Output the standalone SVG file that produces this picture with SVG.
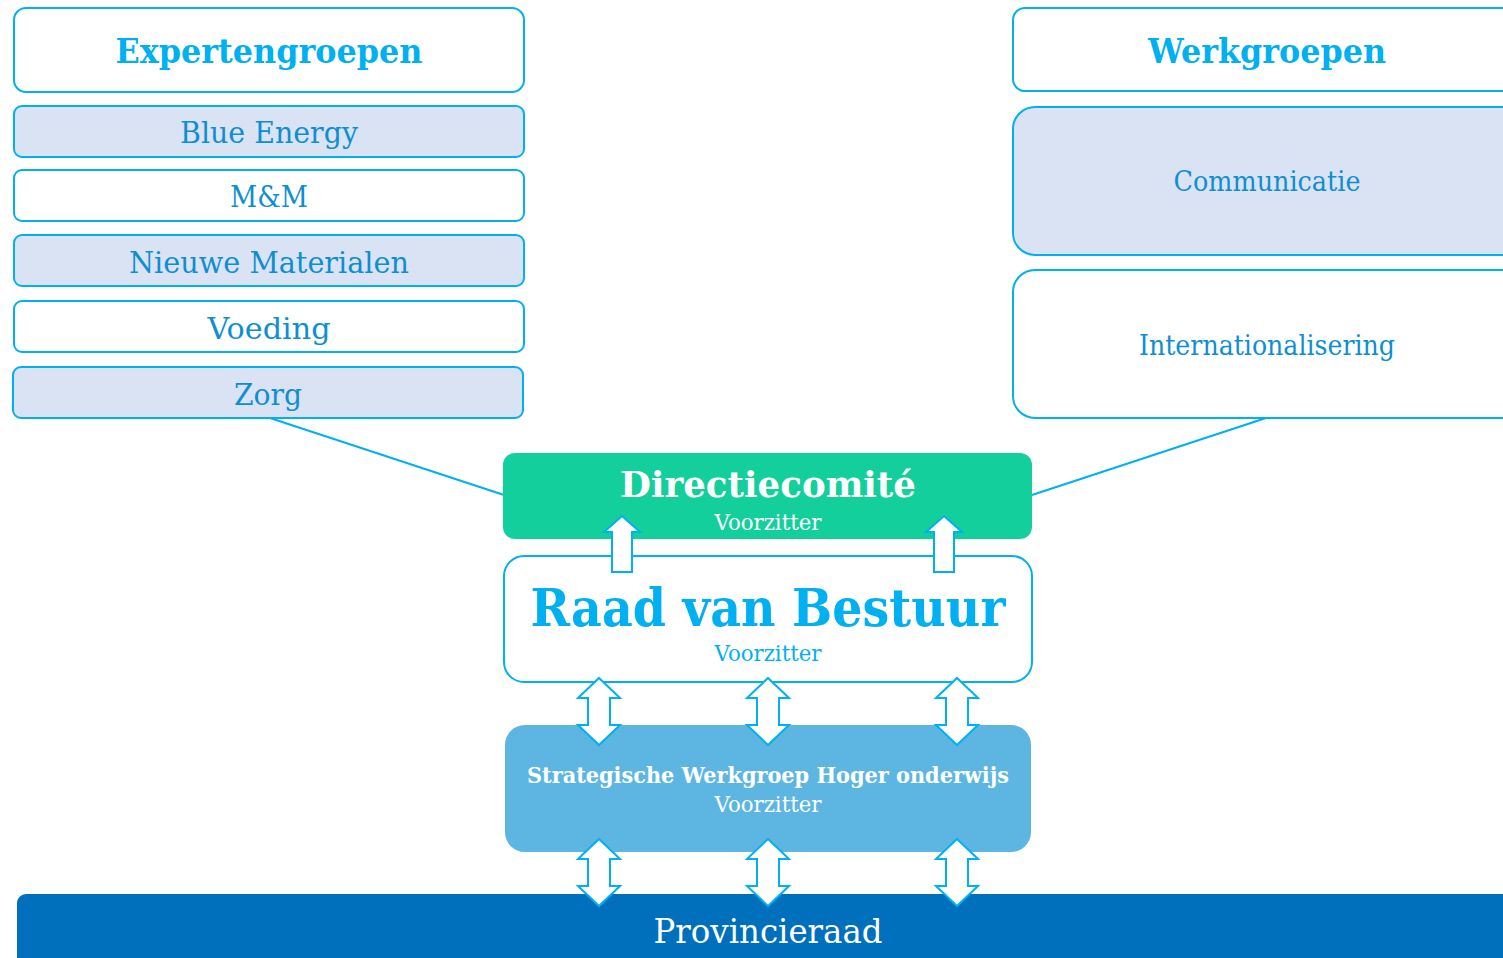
<svg xmlns="http://www.w3.org/2000/svg" xmlns:xlink="http://www.w3.org/1999/xlink" width="1503" height="958" viewBox="0 0 1503 958">
<defs>
<style>
.box{fill:#ffffff;stroke:#00B0F0;stroke-width:2}
.lbox{fill:#DAE3F3;stroke:#00B0F0;stroke-width:2}
.head{font-family:"DejaVu Serif","Liberation Serif",serif;font-weight:bold;fill:#00B0F0;text-anchor:middle}
.item{font-family:"DejaVu Serif","Liberation Serif",serif;fill:#0E8FD2;text-anchor:middle}
.wt{font-family:"DejaVu Serif","Liberation Serif",serif;fill:#ffffff;text-anchor:middle}
.sub{font-family:"DejaVu Serif","Liberation Serif",serif;text-anchor:middle;font-size:23px}
.arr{fill:#ffffff;stroke:#00B0F0;stroke-width:2;stroke-linejoin:miter}
.line{stroke:#00B0F0;stroke-width:2;fill:none}
</style>
<path id="up" d="M0,0 L18,16 L10,16 L10,56 L-10,56 L-10,16 L-18,16 Z"/>
<path id="dbl" d="M0,0 L21,20 L11,20 L11,47 L21,47 L0,67 L-21,47 L-11,47 L-11,20 L-21,20 Z"/>
</defs>

<g id="expertengroepen">
<rect class="box" x="14" y="8" width="510" height="84" rx="12"/>
<text class="head" x="269" y="63" font-size="33" textLength="307" lengthAdjust="spacingAndGlyphs">Expertengroepen</text>
</g>
<g id="blue-energy">
<rect class="lbox" x="14" y="106" width="510" height="51" rx="8"/>
<text class="item" x="269" y="143" font-size="30" textLength="178" lengthAdjust="spacingAndGlyphs">Blue Energy</text>
</g>
<g id="mm">
<rect class="box" x="14" y="170" width="510" height="51" rx="8"/>
<text class="item" x="269" y="207" font-size="30" textLength="78" lengthAdjust="spacingAndGlyphs">M&amp;M</text>
</g>
<g id="nieuwe-materialen">
<rect class="lbox" x="14" y="235" width="510" height="51" rx="8"/>
<text class="item" x="269" y="273" font-size="30" textLength="280" lengthAdjust="spacingAndGlyphs">Nieuwe Materialen</text>
</g>
<g id="voeding">
<rect class="box" x="14" y="301" width="510" height="51" rx="8"/>
<text class="item" x="269" y="339" font-size="30" textLength="123" lengthAdjust="spacingAndGlyphs">Voeding</text>
</g>
<g id="zorg">
<rect class="lbox" x="13" y="367" width="510" height="51" rx="8"/>
<text class="item" x="268" y="405" font-size="30" textLength="68" lengthAdjust="spacingAndGlyphs">Zorg</text>
</g>

<g id="werkgroepen">
<rect class="box" x="1013" y="8" width="510" height="83" rx="12"/>
<text class="head" x="1267" y="63" font-size="33" textLength="238" lengthAdjust="spacingAndGlyphs">Werkgroepen</text>
</g>
<g id="communicatie">
<rect class="lbox" x="1013" y="107" width="510" height="148" rx="22"/>
<text class="item" x="1267" y="191" font-size="27" textLength="187" lengthAdjust="spacingAndGlyphs">Communicatie</text>
</g>
<g id="internationalisering">
<rect class="box" x="1013" y="270" width="510" height="148" rx="22"/>
<text class="item" x="1267" y="355" font-size="27" textLength="256" lengthAdjust="spacingAndGlyphs">Internationalisering</text>
</g>

<g id="connectors-lines">
<line class="line" x1="270" y1="418" x2="504" y2="495"/>
<line class="line" x1="1266" y1="418" x2="1032" y2="495"/>
</g>

<g id="directiecomite">
<rect x="503" y="453" width="529" height="86" rx="12" fill="#13CF9B"/>
<text class="wt" x="768" y="497" font-size="35" font-weight="bold" textLength="296" lengthAdjust="spacingAndGlyphs">Directiecomité</text>
<text class="wt sub" x="768" y="530" textLength="107" lengthAdjust="spacingAndGlyphs">Voorzitter</text>
</g>

<g id="raad-van-bestuur">
<rect class="box" x="504" y="556" width="528" height="126" rx="20"/>
<text class="head" x="768" y="626" font-size="52" textLength="475" lengthAdjust="spacingAndGlyphs">Raad van Bestuur</text>
<text class="sub" x="768" y="661" fill="#00B0F0" textLength="107" lengthAdjust="spacingAndGlyphs">Voorzitter</text>
</g>

<g id="strategische-werkgroep">
<rect x="505" y="725" width="526" height="127" rx="20" fill="#5DB6E2"/>
<text class="wt" x="768" y="783" font-size="22" font-weight="bold" textLength="482" lengthAdjust="spacingAndGlyphs">Strategische Werkgroep Hoger onderwijs</text>
<text class="wt sub" x="768" y="812" textLength="107" lengthAdjust="spacingAndGlyphs">Voorzitter</text>
</g>

<g id="provincieraad">
<rect x="17" y="894" width="1500" height="90" rx="9" fill="#0070BD"/>
<text class="wt" x="768" y="943" font-size="34" textLength="229" lengthAdjust="spacingAndGlyphs">Provincieraad</text>
</g>

<g id="connectors-arrows">
<use xlink:href="#up" href="#up" class="arr" x="622" y="516"/>
<use xlink:href="#up" href="#up" class="arr" x="944" y="516"/>
<use xlink:href="#dbl" href="#dbl" class="arr" x="599" y="678"/>
<use xlink:href="#dbl" href="#dbl" class="arr" x="768" y="678"/>
<use xlink:href="#dbl" href="#dbl" class="arr" x="957" y="678"/>
<use xlink:href="#dbl" href="#dbl" class="arr" x="599" y="839"/>
<use xlink:href="#dbl" href="#dbl" class="arr" x="768" y="839"/>
<use xlink:href="#dbl" href="#dbl" class="arr" x="957" y="839"/>
</g>
</svg>
